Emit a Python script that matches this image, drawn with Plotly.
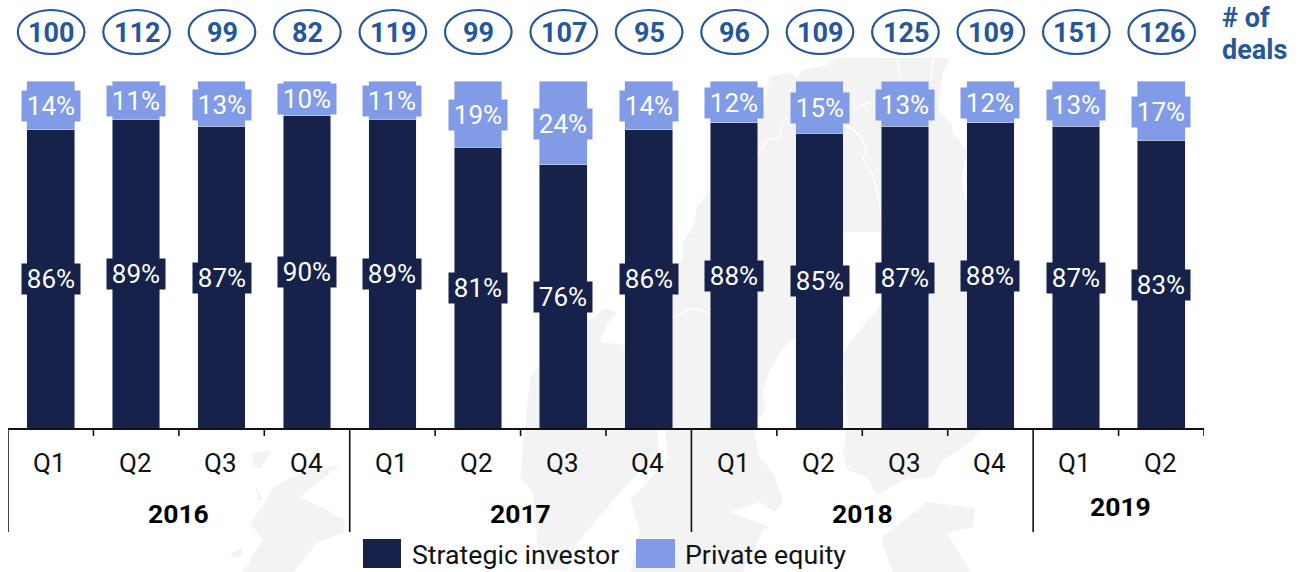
import plotly.graph_objects as go

quarters = ["Q1","Q2","Q3","Q4","Q1","Q2","Q3","Q4","Q1","Q2","Q3","Q4","Q1","Q2"]
strategic = [86,89,87,90,89,81,76,86,88,85,87,88,87,83]
private_eq = [14,11,13,10,11,19,24,14,12,15,13,12,13,17]
deals = [100,112,99,82,119,99,107,95,96,109,125,109,151,126]
years = ["2016","2017","2018","2019"]
year_groups = [(0,3),(4,7),(8,11),(12,13)]

DARK = "#16224a"; LIGHT = "#829be6"; BLUE = "#27579b"; FONT = "Roboto"; MAP = "#f3f3f3"
W, H = 1303, 572
L, R, T, B = 8, 1204, 81, 429
xs = list(range(len(quarters)))

# faint decorative map behind the chart (page pixels, purely background artwork)
map_grey = [
    [(710,190),(730,140),(758,130),(770,77),(790,72),(797,78),(803,70),(827,65),(835,58),(950,58),(943,73),(938,110),
     (952,123),(953,133),(967,150),(962,177),(965,197),(985,260),(990,429),
     (847,429),(844,353),(850,343),(868,320),(882,305),(890,232),(845,232),(820,300),(793,340),(783,348),(770,370),
     (763,390),(765,410),(758,420),(740,429),(700,429)],
    [(525,429),(530,377),(540,365),(590,320),(605,308),(617,312),(608,323),(600,342),(625,345),(650,300),(672,267),
     (683,260),(683,243),(693,227),(697,207),(710,190),(720,429)],
    [(525,430),(520,477),(533,493),(540,570),(567,570),(577,543),(605,510),(625,487),(658,450),(658,430)],
    [(665,430),(753,430),(760,457),(773,473),(783,500),(775,512),(760,502),(730,512),(770,527),(763,530),(743,572),
     (630,572),(640,530),(630,500),(668,460)],
    [(847,430),(980,430),(970,443),(943,460),(933,477),(903,480),(877,495),(867,477),(847,470),(843,453)],
    [(883,537),(927,502),(975,508),(973,527),(947,533),(963,560),(970,572),(893,572),(882,543)],
    [(340,465),(300,473),(273,487),(267,500),(250,523),(263,540),(243,572),(293,572),(317,543),(343,533),(345,520),
     (327,510),(300,497)],
    [(252,453),(272,451),(260,468),(253,467)],
    [(255,482),(262,500),(258,500)],
    [(230,553),(243,548),(242,555),(233,558)],
]
map_white_lines = [
    [(758,155),(767,140),(780,137),(782,123),(788,117)],
    [(843,125),(852,128),(863,140),(867,150),(862,158),(873,175),(877,190),(882,220)],
    [(853,110),(870,102),(882,108)],
    [(897,60),(900,75)],
    [(933,60),(931,80)],
    [(673,317),(693,308),(710,313)],
]

def py(y):  # pixel row to paper fraction
    return (B - y) / (B - T)
def px(x):  # pixel column to paper fraction
    return (x - L) / (R - L)
def svg(points, close=True):
    d = "M" + " L".join(f"{px(a):.5f},{py(b):.5f}" for a, b in points)
    return d + (" Z" if close else "")

fig = go.Figure()
fig.add_bar(x=xs, y=strategic, name="Strategic investor", marker_color=DARK, width=0.557)
fig.add_bar(x=xs, y=private_eq, name="Private equity", marker_color=LIGHT, width=0.557)

anns, shapes = [], []
for poly in map_grey:
    shapes.append(dict(type="path", xref="paper", yref="paper", path=svg(poly), fillcolor=MAP, line_width=0, layer="below"))
for ln in map_white_lines:
    shapes.append(dict(type="path", xref="paper", yref="paper", path=svg(ln, False), line=dict(color="white", width=1.5), layer="below"))

for i in xs:
    common = dict(showarrow=False, width=54, height=26, borderpad=2, yanchor="middle")
    anns.append(dict(x=i, y=strategic[i]/2, text=f"{strategic[i]}%", bgcolor=DARK,
                     font=dict(color="white", size=26, family=FONT), **common))
    anns.append(dict(x=i, y=strategic[i]+private_eq[i]/2, text=f"{private_eq[i]}%", bgcolor=LIGHT,
                     font=dict(color="white", size=26, family=FONT), yshift=-1, **common))
    anns.append(dict(x=i, y=py(33), yref="paper", yanchor="middle", text=f"<b>{deals[i]}</b>", showarrow=False,
                     font=dict(color=BLUE, size=27, family=FONT), xshift=0.5))
    anns.append(dict(x=i, y=py(463), yref="paper", yanchor="middle", text=quarters[i], showarrow=False,
                     font=dict(color="#111", size=26, family=FONT), xshift=-1))
    shapes.append(dict(type="circle", xref="x", yref="paper", x0=i-0.39+0.005, x1=i+0.39+0.005, y0=py(54), y1=py(10),
                       line=dict(color=BLUE, width=2.2), fillcolor="rgba(0,0,0,0)"))

for (a, b), yr, yp, sh in zip(year_groups, years, [513, 513, 513, 507], [0, 0, 0, 2]):
    anns.append(dict(x=(a+b)/2, y=py(yp), yref="paper", yanchor="middle", text=f"<b>{yr}</b>", showarrow=False,
                     font=dict(color="#000", size=26.5, family=FONT), xshift=sh))
    shapes.append(dict(type="line", xref="x", yref="paper", x0=a-0.5, x1=a-0.5, y0=0, y1=py(532),
                       line=dict(color="#111", width=1.6)))
    for k in range(a, b+1):
        if k == b and b != year_groups[-1][1]:
            continue
        shapes.append(dict(type="line", xref="x", yref="paper", x0=k+0.5, x1=k+0.5, y0=0, y1=py(436),
                           line=dict(color="#111", width=1.6)))
shapes.append(dict(type="line", xref="paper", yref="paper", x0=0, x1=1, y0=0, y1=0,
                   line=dict(color="#111", width=1.8)))

# "# of deals" header
for label, yp in [("# of", 18), ("deals", 50)]:
    anns.append(dict(xref="paper", yref="paper", x=px(1220), y=py(yp), xanchor="left", yanchor="middle",
                     text=f"<b>{label}</b>", showarrow=False, font=dict(color=BLUE, size=27, family=FONT)))

# legend
for (x0, x1, col, tx, lab) in [(363,401,DARK,410,"Strategic investor"),(636,675,LIGHT,683,"Private equity")]:
    shapes.append(dict(type="rect", xref="paper", yref="paper", x0=px(x0), x1=px(x1),
                       y0=py(568), y1=py(539), fillcolor=col, line_width=0))
    anns.append(dict(xref="paper", yref="paper", x=px(tx), y=py(555), xanchor="left", yanchor="middle", text=lab,
                     showarrow=False, font=dict(color="#111", size=26.7, family=FONT)))

fig.update_layout(
    width=W, height=H, barmode="stack", showlegend=False,
    margin=dict(l=L, r=W-R, t=T, b=H-B, autoexpand=False),
    paper_bgcolor="white", plot_bgcolor="rgba(0,0,0,0)",
    annotations=anns, shapes=shapes, font=dict(family=FONT),
    xaxis=dict(range=[-0.5, len(xs)-0.5], showticklabels=False, showgrid=False, zeroline=False, ticks=""),
    yaxis=dict(range=[0, 100], visible=False),
)
fig.write_html("out.html", config={"displayModeBar": False},
               post_script="document.body.style.margin='0';document.body.style.overflow='hidden';")
